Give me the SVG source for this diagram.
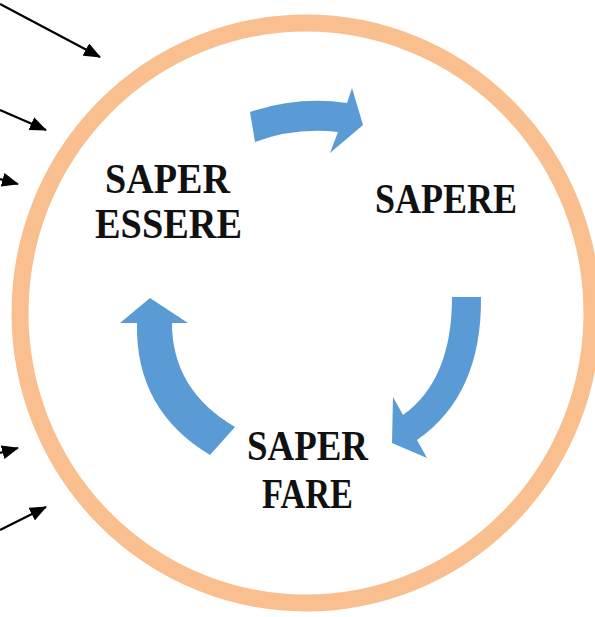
<svg xmlns="http://www.w3.org/2000/svg" width="595" height="617" viewBox="0 0 595 617">
  <style>
    .lbl { font-family: "Liberation Serif", "Times New Roman", serif; font-weight: bold; font-size: 42px; fill: #111111; }
    .cyc { fill: #5B9BD5; }
    .ptr { stroke: #000000; stroke-width: 2.2; fill: none; marker-end: url(#head); }
  </style>
  <defs>
    <marker id="head" viewBox="0 0 17 14" refX="16" refY="7" markerWidth="17" markerHeight="14" markerUnits="userSpaceOnUse" orient="auto">
      <path d="M0,0 L17,7 L0,14 Z" fill="#000000"/>
    </marker>
  </defs>
  <rect width="595" height="617" fill="#ffffff"/>
  <g id="ring">
    <ellipse cx="306" cy="313" rx="286" ry="290" fill="none" stroke="#F9BF8F" stroke-width="17"/>
  </g>
  <g id="connectors">
    <path class="cyc" d="M250,112 Q298,96 347,103 L352,88 L363,125 L330,153 L338,132 Q295,127 255,142 Z"/>
    <path class="cyc" d="M452,297 L481,297 Q482,395 417,440 L427,458 L392,443 L393,397 L403,415 Q452,380 452,297 Z"/>
    <path class="cyc" d="M150,298 L188,323 L172,323 Q172,390 235,427 L210,455 Q135,410 137,323 L120,323 Z"/>
    <line class="ptr" x1="0" y1="4" x2="100" y2="57"/>
    <line class="ptr" x1="0" y1="110" x2="46" y2="130"/>
    <line class="ptr" x1="0" y1="179" x2="18" y2="184"/>
    <line class="ptr" x1="0" y1="453" x2="18" y2="448"/>
    <line class="ptr" x1="0" y1="530" x2="46" y2="507"/>
  </g>
  <g id="node-saper-essere">
    <text class="lbl" x="105" y="193" textLength="125" lengthAdjust="spacingAndGlyphs">SAPER</text>
    <text class="lbl" x="95" y="238" textLength="147" lengthAdjust="spacingAndGlyphs">ESSERE</text>
  </g>
  <g id="node-sapere">
    <text class="lbl" x="375" y="213" textLength="142" lengthAdjust="spacingAndGlyphs">SAPERE</text>
  </g>
  <g id="node-saper-fare">
    <text class="lbl" x="247" y="460" textLength="121" lengthAdjust="spacingAndGlyphs">SAPER</text>
    <text class="lbl" x="262" y="508" textLength="91" lengthAdjust="spacingAndGlyphs">FARE</text>
  </g>
</svg>
